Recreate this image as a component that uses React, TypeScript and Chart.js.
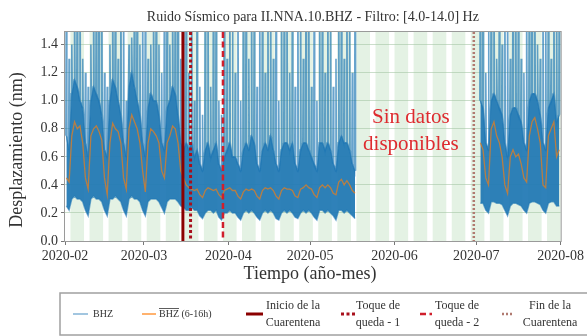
import React, { useEffect, useRef } from 'react';
import { Chart, registerables } from 'chart.js';

Chart.register(...registerables);

const FONT = "'Liberation Serif', 'Times New Roman', serif";

// x axis: days since 2020-02-01
const MONTH_DAYS = [0, 29, 60, 90, 121, 151, 182];
const MONTH_LABELS = ['2020-02', '2020-03', '2020-04', '2020-05', '2020-06', '2020-07', '2020-08'];
const Y_TICKS = [0, 0.2, 0.4, 0.6, 0.8, 1.0, 1.2, 1.4];
const X_MIN = 0;
const X_MAX = 182;
const Y_MIN = 0;
const Y_MAX = 1.49;

const TITLE = 'Ruido Sísmico para II.NNA.10.BHZ - Filtro: [4.0-14.0] Hz';
const X_TITLE = 'Tiempo (año-mes)';
const Y_TITLE = 'Desplazamiento (nm)';

// Segment A: 2020-02-01 .. 2020-05-17 (daily envelope of BHZ + daily 6-16h mean)
const SEG_A_START = 0;
const segALow = [
  0.25, 0.22, 0.30, 0.32, 0.30, 0.30, 0.28,
  0.22, 0.18, 0.30, 0.32, 0.30, 0.30, 0.28,
  0.22, 0.18, 0.30, 0.30, 0.32, 0.30, 0.28,
  0.22, 0.18, 0.30, 0.32, 0.30, 0.30, 0.28,
  0.22, 0.18, 0.28, 0.30, 0.30, 0.30, 0.28,
  0.24, 0.20, 0.28, 0.30, 0.30, 0.30, 0.28,
  0.25, 0.24, 0.22, 0.22, 0.24, 0.22, 0.22,
  0.18, 0.16, 0.20, 0.22, 0.22, 0.20, 0.22,
  0.17, 0.15, 0.20, 0.20, 0.22, 0.20, 0.20,
  0.17, 0.15, 0.20, 0.22, 0.20, 0.22, 0.20,
  0.17, 0.15, 0.20, 0.22, 0.20, 0.22, 0.20,
  0.16, 0.15, 0.20, 0.22, 0.20, 0.22, 0.20,
  0.17, 0.16, 0.20, 0.22, 0.20, 0.22, 0.20,
  0.17, 0.15, 0.22, 0.22, 0.20, 0.22, 0.20,
  0.18, 0.15, 0.22, 0.22, 0.20, 0.22, 0.20,
  0.18, 0.16,
];
const segATop = [
  0.75, 0.65, 1.05, 1.15, 1.10, 1.00, 0.95,
  0.70, 0.60, 1.00, 1.10, 1.05, 1.00, 0.90,
  0.65, 0.60, 1.00, 1.15, 1.10, 1.00, 0.90,
  0.70, 0.60, 1.10, 1.20, 1.10, 1.00, 0.90,
  0.70, 0.60, 0.95, 1.05, 1.00, 1.00, 0.90,
  0.70, 0.65, 0.95, 1.00, 1.10, 1.05, 0.90,
  0.70, 0.65, 0.70, 0.65, 0.70, 0.60, 0.65,
  0.55, 0.50, 0.65, 0.70, 0.60, 0.65, 0.70,
  0.55, 0.50, 0.60, 0.65, 0.70, 0.60, 0.60,
  0.55, 0.50, 0.65, 0.70, 0.65, 0.75, 0.70,
  0.55, 0.50, 0.65, 0.70, 0.65, 0.75, 0.65,
  0.55, 0.50, 0.65, 0.70, 0.70, 0.65, 0.70,
  0.55, 0.50, 0.65, 0.70, 0.70, 0.65, 0.60,
  0.55, 0.50, 0.70, 0.70, 0.65, 0.70, 0.65,
  0.55, 0.50, 0.70, 0.75, 0.70, 0.70, 0.65,
  0.55, 0.50,
];
const segAPeak = [
  2.0, 1.3, 1.4, 2.0, 2.0, 2.0, 1.3,
  1.2, 1.1, 1.4, 2.0, 2.0, 2.0, 2.0,
  1.2, 1.1, 1.4, 2.0, 2.0, 1.3, 2.0,
  2.0, 1.0, 1.4, 1.45, 2.0, 2.0, 1.4,
  2.0, 2.0, 1.3, 1.4, 2.0, 2.0, 1.4,
  1.2, 2.0, 2.0, 1.4, 2.0, 2.0, 2.0,
  1.3, 2.0, 2.0, 1.2, 2.0, 1.0, 2.0,
  1.1, 0.9, 2.0, 2.0, 1.1, 2.0, 2.0,
  1.0, 0.9, 2.0, 1.3, 2.0, 2.0, 1.2,
  2.0, 1.0, 2.0, 2.0, 1.3, 2.0, 2.0,
  1.1, 2.0, 2.0, 1.2, 2.0, 2.0, 1.3,
  2.0, 1.0, 2.0, 2.0, 2.0, 1.2, 2.0,
  1.1, 2.0, 2.0, 1.3, 2.0, 2.0, 1.1,
  2.0, 1.0, 2.0, 2.0, 1.2, 2.0, 2.0,
  1.1, 1.3, 2.0, 2.0, 1.3, 2.0, 2.0,
  1.2, 2.0,
];
const segAMean = [
  0.45, 0.42, 0.75, 0.85, 0.80, 0.82, 0.70,
  0.45, 0.37, 0.75, 0.80, 0.82, 0.78, 0.72,
  0.45, 0.33, 0.70, 0.84, 0.80, 0.78, 0.70,
  0.45, 0.37, 0.80, 0.90, 0.85, 0.80, 0.70,
  0.50, 0.35, 0.70, 0.80, 0.78, 0.75, 0.70,
  0.50, 0.45, 0.70, 0.75, 0.82, 0.80, 0.70,
  0.50, 0.45, 0.40, 0.38, 0.37, 0.36, 0.37,
  0.33, 0.31, 0.36, 0.38, 0.37, 0.36, 0.37,
  0.33, 0.31, 0.36, 0.37, 0.38, 0.36, 0.36,
  0.32, 0.30, 0.35, 0.37, 0.36, 0.37, 0.36,
  0.32, 0.30, 0.36, 0.38, 0.37, 0.38, 0.36,
  0.32, 0.30, 0.36, 0.38, 0.37, 0.37, 0.36,
  0.32, 0.31, 0.37, 0.38, 0.40, 0.38, 0.37,
  0.33, 0.31, 0.38, 0.40, 0.38, 0.40, 0.38,
  0.34, 0.33, 0.42, 0.44, 0.40, 0.43, 0.40,
  0.36, 0.34,
];

// Segment B: 2020-07-02 .. 2020-07-31
const SEG_B_START = 152;
const segBLow = [
  0.27, 0.27, 0.22, 0.20, 0.28, 0.28, 0.27, 0.27, 0.26, 0.22,
  0.18, 0.25, 0.27, 0.27, 0.26, 0.25, 0.22, 0.20, 0.27, 0.28,
  0.28, 0.27, 0.26, 0.22, 0.20, 0.27, 0.28, 0.28, 0.25, 0.25,
];
const segBTop = [
  1.00, 0.95, 0.70, 0.65, 1.00, 1.05, 1.00, 0.95, 0.90, 0.70,
  0.60, 0.90, 0.95, 0.95, 0.90, 0.85, 0.70, 0.65, 1.00, 1.05,
  1.05, 1.00, 0.90, 0.70, 0.65, 0.95, 1.00, 1.05, 0.85, 0.90,
];
const segBPeak = [
  2.0, 2.0, 1.2, 2.0, 2.0, 2.0, 1.3, 2.0, 1.4, 2.0,
  2.0, 1.3, 2.0, 2.0, 2.0, 1.3, 1.2, 2.0, 2.0, 2.0,
  2.0, 1.4, 1.3, 2.0, 2.0, 2.0, 1.3, 2.0, 2.0, 2.0,
];
const segBMean = [
  0.70, 0.65, 0.45, 0.40, 0.80, 0.85, 0.75, 0.70, 0.60, 0.40,
  0.34, 0.60, 0.65, 0.60, 0.62, 0.55, 0.45, 0.42, 0.75, 0.85,
  0.88, 0.80, 0.70, 0.40, 0.38, 0.75, 0.80, 0.85, 0.60, 0.65,
];

// Event markers (days since 2020-02-01)
const EVENT_DAYS = [43.3, 46.1, 58.0, 150.1];
const EVENT_LABELS = [
  ['Inicio de la', 'Cuarentena'],
  ['Toque de', 'queda - 1'],
  ['Toque de', 'queda - 2'],
  ['Fin de la', 'Cuarentena'],
];

const NO_DATA_DAY = 127;
const NO_DATA_LINES = ['Sin datos', 'disponibles'];
const NO_DATA_Y = [0.88, 0.69];

// ---- styles ----
const BLUE_CORE = 'rgba(31,119,180,0.93)';
const BLUE_EDGE = 'rgba(31,119,180,0.6)';
const BLUE_SPIKE = 'rgba(31,119,180,0.68)';
const ORANGE = 'rgba(230,125,30,0.75)';
const BAND = '#e4f2e4';
const EVENT_STYLE = [
  { color: '#8b0000', dash: [] as number[], width: 3 },
  { color: '#a8101c', dash: [3, 2.5], width: 3 },
  { color: '#d01f2c', dash: [6, 3.5], width: 2.5 },
  { color: '#b07a70', dash: [2, 2], width: 2.5 },
];

const segments = [
  { start: SEG_A_START, lo: segALow, top: segATop, peak: segAPeak, mean: segAMean },
  { start: SEG_B_START, lo: segBLow, top: segBTop, peak: segBPeak, mean: segBMean },
];

type P = { x: number; y: number | null };

function series(key: 'lo' | 'top' | 'mean'): P[] {
  const out: P[] = [];
  segments.forEach((s, si) => {
    if (si > 0) {
      const prev = segments[si - 1];
      out.push({ x: (prev.start + prev[key].length + s.start) / 2, y: null });
    }
    s[key].forEach((v, i) => out.push({ x: s.start + i + 0.5, y: v }));
  });
  return out;
}

function spikes(): P[] {
  const out: P[] = [];
  segments.forEach((s, si) => {
    if (si > 0) {
      const prev = segments[si - 1];
      out.push({ x: (prev.start + prev.peak.length + s.start) / 2, y: null });
    }
    s.peak.forEach((p, i) => {
      const d = s.start + i;
      out.push({ x: d + 0.32, y: s.top[i] }, { x: d + 0.5, y: p }, { x: d + 0.68, y: s.top[i] });
    });
  });
  return out;
}

const decorPlugin = {
  id: 'decor',
  beforeDraw(chart: any) {
    const { ctx, chartArea: a, scales } = chart;
    const x = scales.x;
    ctx.save();
    ctx.fillStyle = '#ffffff';
    ctx.fillRect(0, 0, chart.width, chart.height);
    ctx.fillStyle = BAND;
    // weekdays (Mon-Fri); 2020-02-01 is a Saturday
    for (let d = 2; d < X_MAX; d += 7) {
      const x0 = x.getPixelForValue(d);
      const x1 = x.getPixelForValue(Math.min(d + 5, X_MAX));
      ctx.fillRect(x0, a.top, x1 - x0, a.bottom - a.top);
    }
    ctx.restore();
  },
  afterDatasetsDraw(chart: any) {
    const { ctx, chartArea: a, scales } = chart;
    const x = scales.x;
    const y = scales.y;
    ctx.save();
    EVENT_DAYS.forEach((d, i) => {
      const st = EVENT_STYLE[i];
      const px = x.getPixelForValue(d);
      ctx.strokeStyle = st.color;
      ctx.lineWidth = st.width;
      ctx.setLineDash(st.dash);
      ctx.beginPath();
      ctx.moveTo(px, a.top);
      ctx.lineTo(px, a.bottom);
      ctx.stroke();
    });
    ctx.setLineDash([]);
    // "no data" note
    ctx.fillStyle = '#de2b2f';
    ctx.font = `21px ${FONT}`;
    ctx.textAlign = 'center';
    ctx.textBaseline = 'middle';
    NO_DATA_LINES.forEach((t, i) => {
      ctx.fillText(t, x.getPixelForValue(NO_DATA_DAY), y.getPixelForValue(NO_DATA_Y[i]));
    });
    ctx.restore();
  },
  afterDraw(chart: any) {
    const { ctx, chartArea: a } = chart;
    ctx.save();
    // frame
    ctx.strokeStyle = '#9a9a9a';
    ctx.lineWidth = 1;
    ctx.strokeRect(a.left - 0.5, a.top - 0.5, a.right - a.left + 1, a.bottom - a.top + 1);
    // titles
    ctx.fillStyle = '#333';
    ctx.textAlign = 'center';
    ctx.textBaseline = 'middle';
    ctx.font = `14px ${FONT}`;
    ctx.fillText(TITLE, (a.left + a.right) / 2, 17);
    ctx.font = `18px ${FONT}`;
    ctx.fillText(X_TITLE, 310, 274);
    ctx.save();
    ctx.translate(17, 150);
    ctx.rotate(-Math.PI / 2);
    ctx.fillText(Y_TITLE, 0, 0);
    ctx.restore();

    // legend box
    ctx.strokeStyle = '#a0a0a0';
    ctx.lineWidth = 1.5;
    ctx.strokeRect(60, 293, 540, 42);
    const ly = 314;
    const drawLine = (x0: number, x1: number, color: string, w: number, dash: number[]) => {
      ctx.strokeStyle = color;
      ctx.lineWidth = w;
      ctx.setLineDash(dash);
      ctx.beginPath();
      ctx.moveTo(x0, ly);
      ctx.lineTo(x1, ly);
      ctx.stroke();
      ctx.setLineDash([]);
    };
    ctx.fillStyle = '#333';
    ctx.textAlign = 'left';
    // BHZ
    drawLine(73, 88, 'rgba(31,119,180,0.55)', 1.5, []);
    ctx.font = `10px ${FONT}`;
    ctx.fillText('BHZ', 93, ly);
    // mean BHZ (6-16h)
    drawLine(142, 156, 'rgba(255,127,14,0.8)', 1.5, []);
    ctx.fillText('BHZ (6-16h)', 159, ly);
    const wb = ctx.measureText('BHZ').width;
    ctx.strokeStyle = '#333';
    ctx.lineWidth = 0.8;
    ctx.beginPath();
    ctx.moveTo(159, ly - 5.5);
    ctx.lineTo(159 + wb, ly - 5.5);
    ctx.stroke();
    // events
    const legX = [[246, 263, 293], [341, 356, 378], [420, 432, 457], [502, 514, 550]];
    ctx.font = `12px ${FONT}`;
    ctx.textAlign = 'center';
    EVENT_LABELS.forEach((lines, i) => {
      const st = EVENT_STYLE[i];
      drawLine(legX[i][0], legX[i][1], st.color, st.width, st.dash);
      ctx.fillStyle = '#333';
      ctx.fillText(lines[0], legX[i][2], ly - 8.5);
      ctx.fillText(lines[1], legX[i][2], ly + 8.5);
    });
    ctx.restore();
  },
};

export default function App() {
  const ref = useRef<HTMLCanvasElement | null>(null);
  useEffect(() => {
    document.body.style.margin = '0';
    const canvas = ref.current;
    if (!canvas) return;
    const chart = new Chart(canvas, {
      type: 'line',
      data: {
        datasets: [
          {
            label: 'BHZ (6-16h)',
            data: series('mean'),
            borderColor: ORANGE,
            borderWidth: 1.3,
            pointRadius: 0,
            spanGaps: false,
            order: 0,
          } as any,
          {
            label: 'top',
            data: series('top'),
            borderColor: BLUE_EDGE,
            backgroundColor: BLUE_CORE,
            borderWidth: 1.2,
            pointRadius: 0,
            fill: '+1',
            spanGaps: false,
            order: 1,
          },
          {
            label: 'low',
            data: series('lo'),
            borderColor: BLUE_EDGE,
            borderWidth: 1.5,
            pointRadius: 0,
            fill: false,
            spanGaps: false,
            order: 2,
          },
          {
            label: 'BHZ',
            data: spikes(),
            borderColor: BLUE_SPIKE,
            borderWidth: 1.6,
            pointRadius: 0,
            fill: false,
            spanGaps: false,
            order: 3,
          },
        ],
      },
      options: {
        animation: false,
        responsive: false,
        events: [],
        layout: { padding: { top: 32, right: 25, bottom: 60, left: 0 } },
        plugins: {
          legend: { display: false },
          tooltip: { enabled: false },
          title: { display: false },
        },
        scales: {
          x: {
            type: 'linear',
            min: X_MIN,
            max: X_MAX,
            afterBuildTicks: (s: any) => {
              s.ticks = MONTH_DAYS.map((v) => ({ value: v }));
            },
            afterFit: (s: any) => {
              s.height = 35;
            },
            ticks: {
              autoSkip: false,
              maxRotation: 0,
              padding: 3,
              color: '#333',
              font: { family: FONT, size: 14 },
              callback: (v: any) => {
                const i = MONTH_DAYS.indexOf(Number(v));
                return i >= 0 ? MONTH_LABELS[i] : '';
              },
            },
            grid: { drawOnChartArea: false, drawTicks: true, tickLength: 4, color: '#777' },
            border: { display: false },
          },
          y: {
            min: Y_MIN,
            max: Y_MAX,
            afterBuildTicks: (s: any) => {
              s.ticks = Y_TICKS.map((v) => ({ value: v }));
            },
            afterFit: (s: any) => {
              s.width = 65;
            },
            ticks: {
              padding: 3,
              color: '#333',
              font: { family: FONT, size: 14 },
              callback: (v: any) => Number(v).toFixed(1),
            },
            grid: { color: 'rgba(160,195,160,0.55)', tickColor: '#777', tickLength: 4, lineWidth: 1 },
            border: { display: false },
          },
        },
      },
      plugins: [decorPlugin],
    });
    return () => chart.destroy();
  }, []);
  return (
    <div style={{ position: 'absolute', left: 0, top: 0, width: 587, height: 336 }}>
      <canvas ref={ref} width={587} height={336} style={{ width: 587, height: 336, display: 'block' }} />
    </div>
  );
}
